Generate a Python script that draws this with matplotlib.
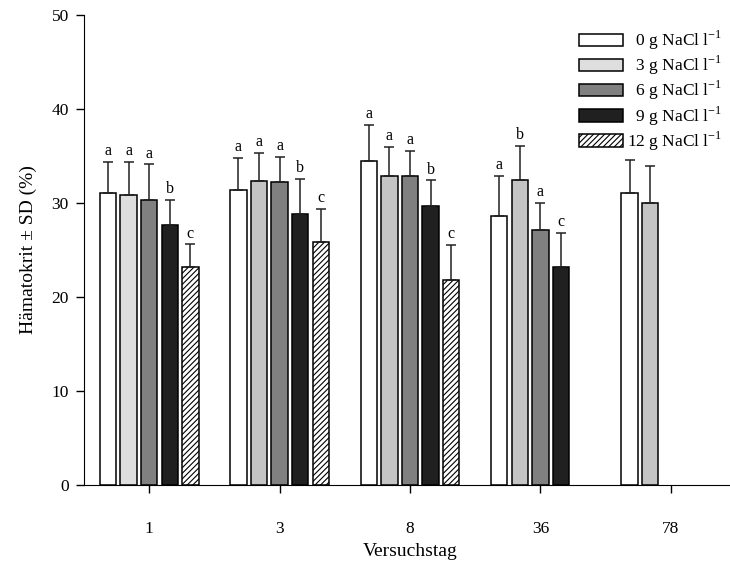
import numpy as np
import matplotlib
matplotlib.use("Agg")
import matplotlib.pyplot as plt

plt.rcParams['font.family'] = ['Liberation Serif', 'DejaVu Serif']
plt.rcParams['mathtext.fontset'] = 'custom'
plt.rcParams['mathtext.rm'] = 'Liberation Serif'
plt.rcParams['hatch.linewidth'] = 0.8

days = ['1', '3', '8', '36', '78']
series = ['0', '3', '6', '9', '12']
mean_0 = [31.1, 31.4, 34.5, 28.6, 31.1]
mean_3 = [30.8, 32.3, 32.9, 32.4, 30.0]
mean_6 = [30.3, 32.2, 32.9, 27.1, np.nan]
mean_9 = [27.7, 28.8, 29.7, 23.2, np.nan]
mean_12 = [23.2, 25.9, 21.8, np.nan, np.nan]
sd_0 = [3.3, 3.4, 3.8, 4.3, 3.5]
sd_3 = [3.6, 3.0, 3.1, 3.7, 3.9]
sd_6 = [3.8, 2.7, 2.6, 2.9, np.nan]
sd_9 = [2.6, 3.8, 2.7, 3.6, np.nan]
sd_12 = [2.4, 3.5, 3.7, np.nan, np.nan]
let_0 = ['a', 'a', 'a', 'a', '']
let_3 = ['a', 'a', 'a', 'b', '']
let_6 = ['a', 'a', 'a', 'a', '']
let_9 = ['b', 'b', 'b', 'c', '']
let_12 = ['c', 'c', 'c', '', '']

means = [mean_0, mean_3, mean_6, mean_9, mean_12]
sds = [sd_0, sd_3, sd_6, sd_9, sd_12]
letters = [let_0, let_3, let_6, let_9, let_12]
colors = ['white', '#c4c4c4', '#808080', '#202020', 'white']
legend_colors = ['white', '#dedede', '#808080', '#202020', 'white']
hatches = [None, None, None, None, '//////']

fig = plt.figure(figsize=(7.30, 5.65), dpi=100)
ax = fig.add_axes([84/730, 80/565, 652/730, 470/565])

x = np.arange(len(days))
pitch = 0.158
width = 0.127
handles = []
for i in range(5):
    xs = x + (i - 2) * pitch
    m = np.array(means[i], dtype=float)
    s = np.array(sds[i], dtype=float)
    cols = [colors[i]] * 5
    if i == 1:
        cols[0] = '#dedede'
    ax.bar(xs, m, width=width, color=cols, edgecolor='black',
           linewidth=1.1, hatch=hatches[i], zorder=2)
    ax.errorbar(xs, m, yerr=[np.zeros_like(s), s], fmt='none',
                ecolor='#222222', elinewidth=1.1, capsize=3.6, capthick=1.1, zorder=3)
    for xi, mi, si, li in zip(xs, m, s, letters[i]):
        if li and not np.isnan(mi):
            ax.text(xi, mi + si + 0.3, li, ha='center', va='bottom', fontsize=11.5)
    lab = ('\u2002' if len(series[i]) == 1 else '') + series[i] + r' g NaCl l$^{\mathregular{-1}}$'
    handles.append(matplotlib.patches.Patch(facecolor=legend_colors[i], edgecolor='black',
                                            linewidth=1.1, hatch=hatches[i], label=lab))

ax.set_xlim(-0.5, 4.5)
ax.set_ylim(0, 50)
ax.set_xticks(x)
ax.set_xticklabels(days)
ax.set_yticks(np.arange(0, 51, 10))
ax.spines['top'].set_visible(False)
ax.spines['right'].set_visible(False)
ax.tick_params(direction='out', length=6, width=1, labelsize=12.5, pad=5)
ax.tick_params(axis='x', pad=20)
ax.set_ylabel('Hämatokrit ± SD (%)', fontsize=14, labelpad=10)
ax.set_xlabel('Versuchstag', fontsize=14, labelpad=4)

leg = ax.legend(handles=handles, loc='upper right', bbox_to_anchor=(0.9785, 0.97),
                frameon=False, fontsize=12.5, handlelength=2.53, handleheight=0.75,
                labelspacing=0.1, handletextpad=0.25, borderpad=0, borderaxespad=0)

fig.savefig('out.png', dpi=100)
